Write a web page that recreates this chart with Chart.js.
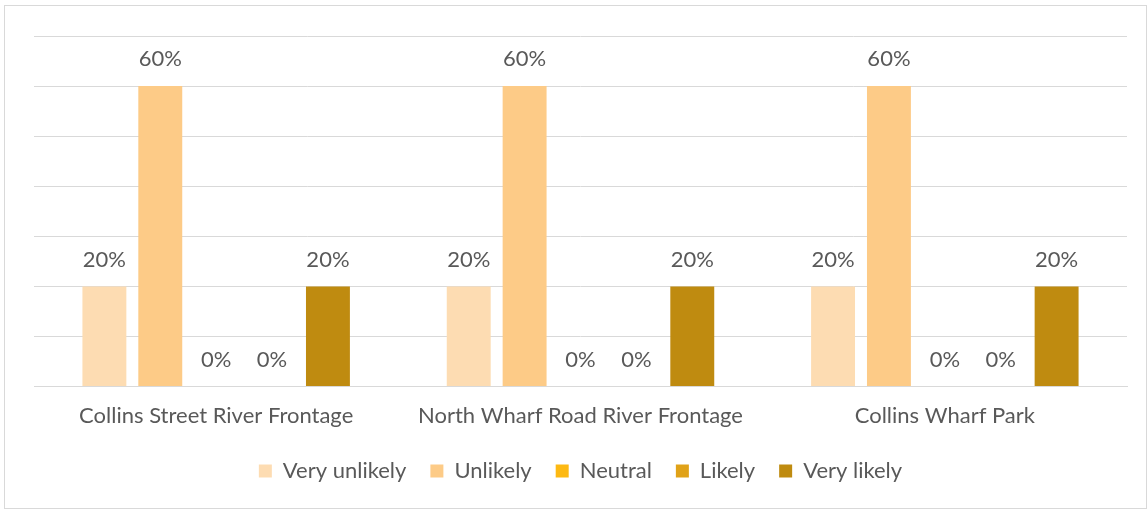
<!DOCTYPE html>
<html>
<head>
<meta charset="utf-8">
<script src="https://cdn.jsdelivr.net/npm/chart.js@4"></script>
<style>
  html, body { margin: 0; padding: 0; background: #fff; }
  #frame {
    position: absolute; left: 4px; top: 5px;
    width: 1143px; height: 504px;
    border: 1px solid #d9d9d9; box-sizing: border-box;
  }
  #chart { display: block; }
</style>
</head>
<body>
<div id="frame"><canvas id="chart" width="1141" height="502"></canvas></div>
<script>
const categories = ['Collins Street River Frontage', 'North Wharf Road River Frontage', 'Collins Wharf Park'];
const seriesNames = ['Very unlikely', 'Unlikely', 'Neutral', 'Likely', 'Very likely'];
const veryUnlikely = [20, 20, 20];
const unlikely = [60, 60, 60];
const neutral = [0, 0, 0];
const likely = [0, 0, 0];
const veryLikely = [20, 20, 20];
const colors = ['#fddcb2', '#fdcb87', '#fdb913', '#e0a218', '#bf8b10'];

const fontFamily = 'Lato, "Open Sans", sans-serif';
const textColor = '#595959';

// draws the percentage labels above each bar
const barLabels = {
    id: 'barLabels',
    afterDatasetsDraw(chart) {
        const ctx = chart.ctx;
        ctx.save();
        ctx.font = '22px ' + fontFamily;
        ctx.fillStyle = textColor;
        ctx.textAlign = 'center';
        ctx.textBaseline = 'middle';
        chart.data.datasets.forEach((ds, i) => {
            chart.getDatasetMeta(i).data.forEach((bar, j) => {
                ctx.fillText(ds.data[j] + '%', bar.x, bar.y - 27);
            });
        });
        ctx.restore();
    }
};

const series = [veryUnlikely, unlikely, neutral, likely, veryLikely];

new Chart(document.getElementById('chart'), {
    type: 'bar',
    data: {
        labels: categories,
        datasets: series.map((vals, i) => ({
            label: seriesNames[i],
            data: vals,
            backgroundColor: colors[i],
            categoryPercentage: 0.767,
            barPercentage: 0.786
        }))
    },
    options: {
        responsive: false,
        animation: false,
        layout: { padding: { left: 29, right: 19, top: 30, bottom: 16 } },
        plugins: {
            legend: {
                position: 'bottom',
                labels: {
                    boxWidth: 13, boxHeight: 13, padding: 24,
                    color: textColor,
                    font: { family: fontFamily, size: 22 }
                }
            },
            tooltip: { enabled: false }
        },
        scales: {
            x: {
                clip: false,
                grid: { display: false },
                border: { color: '#d9d9d9' },
                ticks: { color: textColor, padding: 8, font: { family: fontFamily, size: 22 } },
                // fine-tune the gap between the axis and the legend
                afterFit(scale) { scale.height -= 1; }
            },
            y: {
                min: 0, max: 70,
                ticks: { display: false, stepSize: 10 },
                grid: { color: '#d9d9d9', drawTicks: false },
                border: { display: false }
            }
        }
    },
    plugins: [barLabels]
});
</script>
</body>
</html>
